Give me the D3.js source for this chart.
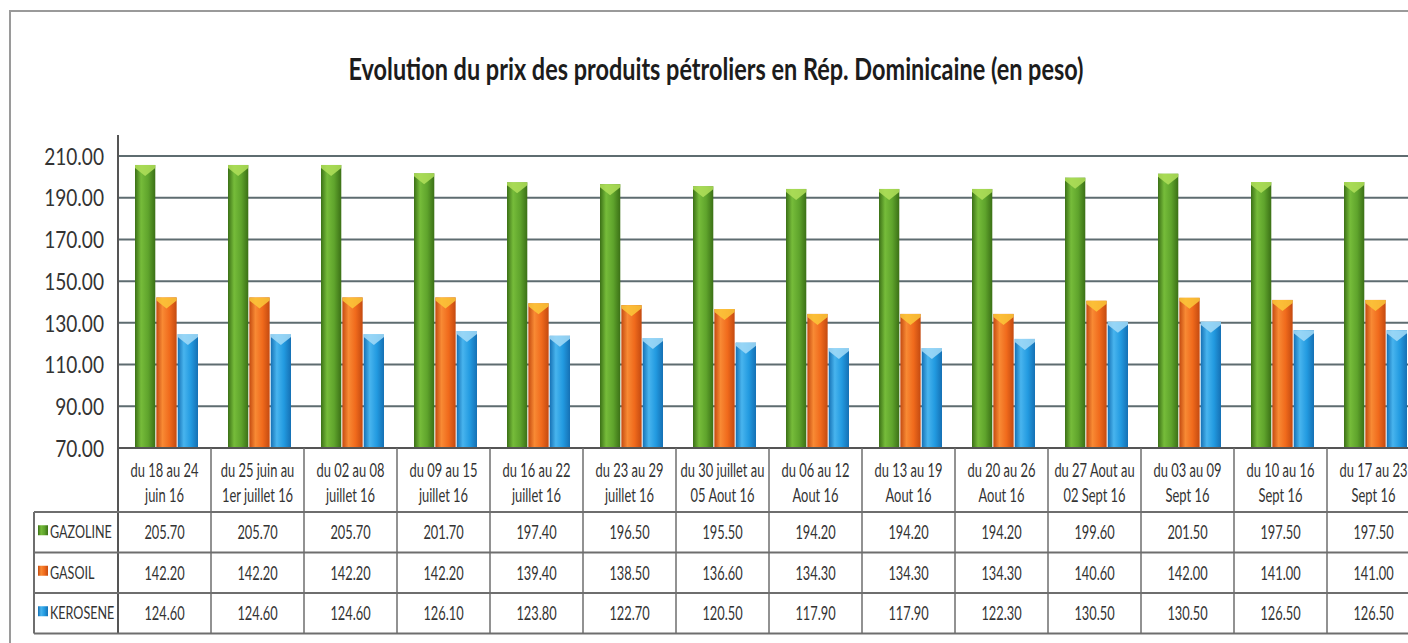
<!DOCTYPE html>
<html>
<head>
<meta charset="utf-8">
<script src="https://cdn.jsdelivr.net/npm/d3@7"></script>
<style>
  html, body { margin: 0; padding: 0; background: #fff; overflow: hidden; }
  svg { display: block; }
  text { font-family: Lato, "Open Sans", sans-serif; fill: #333; }
</style>
</head>
<body>
<svg id="chart" width="1408" height="643"></svg>
<script>
// Chart data
const categories = [
    ["du 18 au 24", "juin 16"],
    ["du 25 juin au", "1er juillet 16"],
    ["du 02 au 08", "juillet 16"],
    ["du 09 au 15", "juillet 16"],
    ["du 16 au 22", "juillet 16"],
    ["du 23 au 29", "juillet 16"],
    ["du 30 juillet au", "05 Aout 16"],
    ["du 06 au 12", "Aout 16"],
    ["du 13 au 19", "Aout 16"],
    ["du 20 au 26", "Aout 16"],
    ["du 27 Aout au", "02 Sept 16"],
    ["du 03 au 09", "Sept 16"],
    ["du 10 au 16", "Sept 16"],
    ["du 17 au 23", "Sept 16"]
];
const seriesNames = ["GAZOLINE", "GASOIL", "KEROSENE"];
const gazoline = [205.70, 205.70, 205.70, 201.70, 197.40, 196.50, 195.50, 194.20, 194.20, 194.20, 199.60, 201.50, 197.50, 197.50];
const gasoil   = [142.20, 142.20, 142.20, 142.20, 139.40, 138.50, 136.60, 134.30, 134.30, 134.30, 140.60, 142.00, 141.00, 141.00];
const kerosene = [124.60, 124.60, 124.60, 126.10, 123.80, 122.70, 120.50, 117.90, 117.90, 122.30, 130.50, 130.50, 126.50, 126.50];
const yTicks = [70, 90, 110, 130, 150, 170, 190, 210];
const title = "Evolution du prix des produits pétroliers en Rép. Dominicaine (en peso)";

// Layout
const CFG = {
    plotLeft: 118,
    plotTop: 135,
    plotBottom: 448,
    colWidth: 93,
    tableLeft: 34,
    headerBottom: 512,
    rowHeight: 40.5,
    colors: {
        GAZOLINE: { dark: "#3b7016", base: "#5fa42c", light: "#76bc3a", cap: "#b2e05a" },
        GASOIL:   { dark: "#c44a10", base: "#f06a1c", light: "#f88a34", cap: "#fcc83a" },
        KEROSENE: { dark: "#1570b4", base: "#229ae0", light: "#48b4ee", cap: "#a4dcf8" }
    }
};

const values = { GAZOLINE: gazoline, GASOIL: gasoil, KEROSENE: kerosene };
const rows = categories.map((c, i) => ({ i, label: c, GAZOLINE: gazoline[i], GASOIL: gasoil[i], KEROSENE: kerosene[i] }));

const svg = d3.select('#chart');
const W = 1408;

// the scanned chart has narrow (Calibri-like) lettering: squeeze text horizontally
function squeeze(sel, k) {
    sel.each(function () {
        const t = d3.select(this);
        const x = +t.attr('x') || 0;
        const yy = +t.attr('y') || 0;
        t.attr('x', 0).attr('y', 0)
            .attr('transform', `translate(${x},${yy}) scale(${k},1)`);
    });
}

const x0 = d3.scaleBand()
    .domain(d3.range(categories.length))
    .range([CFG.plotLeft, CFG.plotLeft + CFG.colWidth * categories.length])
    .paddingInner(0);

const x1 = d3.scaleBand()
    .domain(seriesNames)
    .range([17, 80])
    .paddingInner(0.05);

const y = d3.scaleLinear()
    .domain([70, 210])
    .range([CFG.plotBottom, 156]);

// Gradients for the cylinder-like bars
const defs = svg.append('defs');
seriesNames.forEach(s => {
    const c = CFG.colors[s];
    const g = defs.append('linearGradient')
        .attr('id', 'grad-' + s)
        .attr('x1', '0%').attr('x2', '100%').attr('y1', '0%').attr('y2', '0%');
    g.append('stop').attr('offset', '0%').attr('stop-color', c.dark);
    g.append('stop').attr('offset', '30%').attr('stop-color', c.light);
    g.append('stop').attr('offset', '65%').attr('stop-color', c.base);
    g.append('stop').attr('offset', '100%').attr('stop-color', c.dark);
});

// Outer frame of the scanned chart
svg.append('path')
    .attr('d', `M10,643 V11 H${W}`)
    .attr('fill', 'none')
    .attr('stroke', '#9a9a9a')
    .attr('stroke-width', 2);

// Title
svg.append('text')
    .attr('x', 716)
    .attr('y', 80)
    .attr('text-anchor', 'middle')
    .attr('textLength', 735)
    .attr('lengthAdjust', 'spacingAndGlyphs')
    .style('font-size', '31px')
    .style('font-weight', 'bold')
    .style('fill', '#1c1c1c')
    .text(title);

// Gridlines
svg.append('g')
    .selectAll('line')
    .data(yTicks.filter(t => t > 70))
    .join('line')
    .attr('x1', CFG.plotLeft)
    .attr('x2', W)
    .attr('y1', d => y(d))
    .attr('y2', d => y(d))
    .attr('stroke', '#5e6c70')
    .attr('stroke-width', 2);

// Y axis
const yAxis = d3.axisLeft(y)
    .tickValues(yTicks)
    .tickFormat(d3.format('.2f'))
    .tickSize(0)
    .tickPadding(14);

const yg = svg.append('g')
    .attr('transform', `translate(${CFG.plotLeft},0)`)
    .call(yAxis);
yg.select('.domain').remove();
yg.selectAll('text')
    .style('font-size', '23px')
    .style('font-family', null)
    .attr('fill', '#333')
    .attr('dy', '0.36em')
    .call(squeeze, 0.83);

svg.append('line')
    .attr('x1', CFG.plotLeft).attr('x2', CFG.plotLeft)
    .attr('y1', CFG.plotTop).attr('y2', CFG.headerBottom + CFG.rowHeight * 3)
    .attr('stroke', '#555')
    .attr('stroke-width', 2);

// Bars
const groups = svg.append('g')
    .selectAll('g')
    .data(rows)
    .join('g')
    .attr('transform', d => `translate(${x0(d.i)},0)`);

const bars = groups.selectAll('g.bar')
    .data(d => seriesNames.map(s => ({ key: s, value: d[s] })))
    .join('g')
    .attr('class', 'bar');

bars.append('rect')
    .attr('x', d => x1(d.key))
    .attr('y', d => y(d.value))
    .attr('width', x1.bandwidth())
    .attr('height', d => y(70) - y(d.value))
    .attr('fill', d => `url(#grad-${d.key})`);

// Light top cap of each bar
bars.append('path')
    .attr('d', d => {
        const bx = x1(d.key), bw = x1.bandwidth(), by = y(d.value);
        return `M${bx},${by} H${bx + bw} V${by + 3} L${bx + bw / 2},${by + 11} L${bx},${by + 3} Z`;
    })
    .attr('fill', d => CFG.colors[d.key].cap)
    .attr('opacity', 0.85);

// X axis line
svg.append('line')
    .attr('x1', CFG.plotLeft).attr('x2', W)
    .attr('y1', CFG.plotBottom).attr('y2', CFG.plotBottom)
    .attr('stroke', '#555')
    .attr('stroke-width', 2);

// Data table
const table = svg.append('g');
const tableBottom = CFG.headerBottom + CFG.rowHeight * seriesNames.length;

// horizontal row lines
table.selectAll('line.row')
    .data(d3.range(seriesNames.length + 1))
    .join('line')
    .attr('class', 'row')
    .attr('x1', CFG.tableLeft).attr('x2', W)
    .attr('y1', d => CFG.headerBottom + d * CFG.rowHeight)
    .attr('y2', d => CFG.headerBottom + d * CFG.rowHeight)
    .attr('stroke', '#6e6e6e')
    .attr('stroke-width', 2);

// left border of the legend column
table.append('line')
    .attr('x1', CFG.tableLeft).attr('x2', CFG.tableLeft)
    .attr('y1', CFG.headerBottom).attr('y2', tableBottom)
    .attr('stroke', '#6e6e6e')
    .attr('stroke-width', 2);

// column separators
table.selectAll('line.col')
    .data(d3.range(1, categories.length + 1))
    .join('line')
    .attr('class', 'col')
    .attr('x1', d => x0(d - 1) + x0.bandwidth())
    .attr('x2', d => x0(d - 1) + x0.bandwidth())
    .attr('y1', CFG.plotBottom).attr('y2', tableBottom)
    .attr('stroke', '#6e6e6e')
    .attr('stroke-width', 1.5);

// category labels (two lines each)
const catLines = rows.flatMap(d => d.label.map((t, k) => ({ t, k, cx: x0(d.i) + x0.bandwidth() / 2 })));
table.selectAll('text.cat')
    .data(catLines)
    .join('text')
    .attr('class', 'cat')
    .attr('text-anchor', 'middle')
    .style('font-size', '19px')
    .attr('x', d => d.cx)
    .attr('y', d => 477 + d.k * 25)
    .text(d => d.t)
    .call(squeeze, 0.68);

// series rows
seriesNames.forEach((s, r) => {
    const cy = CFG.headerBottom + r * CFG.rowHeight + CFG.rowHeight / 2;

    table.append('rect')
        .attr('x', 38).attr('y', cy - 7)
        .attr('width', 10).attr('height', 10)
        .attr('fill', `url(#grad-${s})`);

    table.append('text')
        .attr('x', 50)
        .attr('y', cy + 6)
        .style('font-size', '17px')
        .text(s)
        .call(squeeze, 0.74);

    table.selectAll(null)
        .data(values[s])
        .join('text')
        .attr('x', (d, i) => x0(i) + x0.bandwidth() / 2)
        .attr('y', cy + 7)
        .attr('text-anchor', 'middle')
        .style('font-size', '20px')
        .text(d => d3.format('.2f')(d))
        .call(squeeze, 0.64);
});
</script>
</body>
</html>
